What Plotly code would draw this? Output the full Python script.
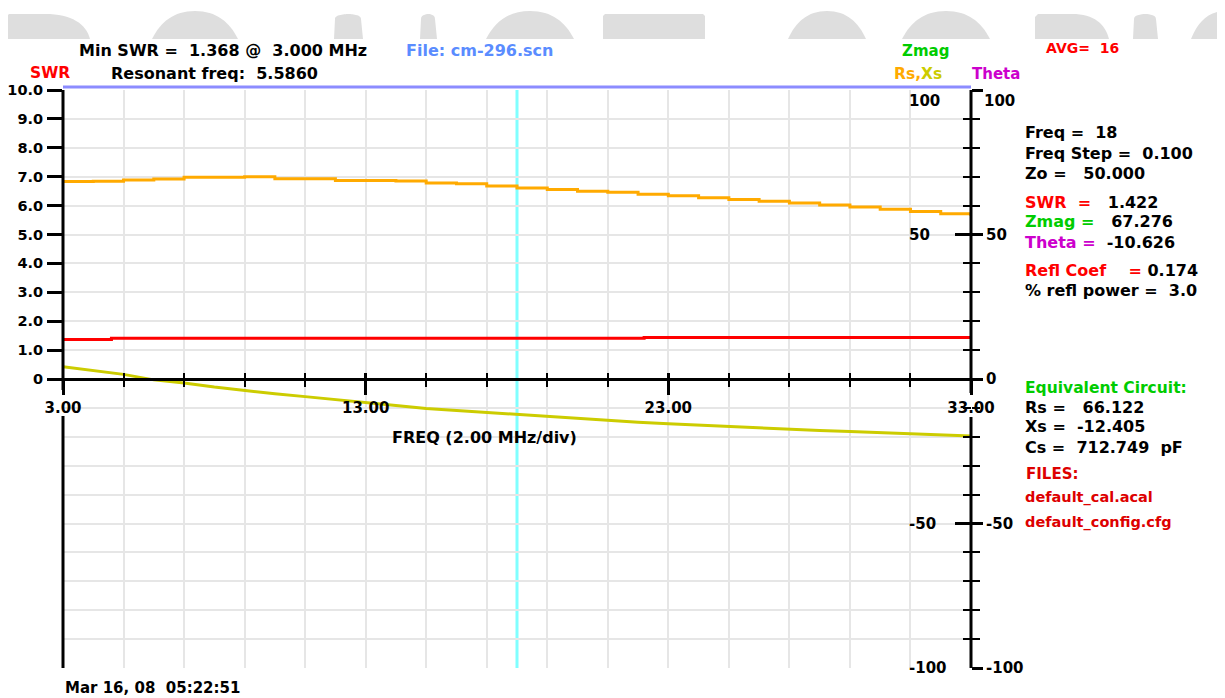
import plotly.graph_objects as go

# ---------------- data ----------------
freq_mhz = list(range(3, 34))  # 3 .. 33 MHz
rs_ohm = [68.3, 68.4, 68.9, 69.2, 69.8, 69.8, 70.0, 69.3, 69.3, 68.7, 68.7,
          68.5, 67.8, 67.6, 66.8, 66.1, 65.6, 65.0, 64.6, 63.9, 63.4, 62.7,
          62.1, 61.5, 60.9, 60.2, 59.5, 58.7, 58.0, 57.2, 56.4]
xs_ohm = [4.2, 2.8, 1.6, -0.3, -1.4, -2.8, -4.0, -5.1, -6.1, -7.2, -8.2,
          -9.2, -10.2, -10.9, -11.7, -12.4, -13.1, -13.8, -14.4, -15.0, -15.5,
          -16.0, -16.5, -16.9, -17.4, -17.8, -18.2, -18.6, -19.0, -19.4, -19.7]
swr_freq = [3.0, 4.6, 22.2, 33.0]
swr_vals = [1.368, 1.41, 1.44, 1.44]
cursor_freq = 18.0

swr_ticks = [10, 9, 8, 7, 6, 5, 4, 3, 2, 1, 0]
swr_ticktext = ["10.0", "9.0", "8.0", "7.0", "6.0", "5.0", "4.0", "3.0", "2.0", "1.0", "0"]
freq_ticks = [3, 13, 23, 33]
imp_ticks = [-100, -50, 0, 50, 100]
imp_ticktext = ["-100", "-50", "0", "50", ""]
inner_ticks = [-100, -50, 50, 100]
inner_ticktext = ["-100", "-50", "50", "100"]

# ---------------- geometry (window pixels) ----------------
W, H = 1225, 698
OFF = 8                      # page body margin
L, R, T, B = 63, 971, 90, 668
FONT = "DejaVu Sans, Verdana, sans-serif"


def px(x):
    return (x - L) / (R - L)


def py(y):
    return (B - y) / (B - T)


fig = go.Figure()

fig.add_trace(go.Scatter(x=freq_mhz, y=rs_ohm, yaxis="y2", mode="lines",
                         line=dict(color="#ffaa00", width=3, shape="hv"),
                         name="Rs", showlegend=False))
fig.add_trace(go.Scatter(x=freq_mhz, y=xs_ohm, yaxis="y2", mode="lines",
                         line=dict(color="#cccc00", width=3),
                         name="Xs", showlegend=False))
fig.add_trace(go.Scatter(x=swr_freq, y=swr_vals, yaxis="y", mode="lines",
                         line=dict(color="#ff0000", width=3, shape="hv"),
                         name="SWR", showlegend=False))
fig.add_trace(go.Scatter(x=[None], y=[None], yaxis="y3", showlegend=False))
fig.add_trace(go.Scatter(x=[None], y=[None], xaxis="x2", yaxis="y", showlegend=False))

fig.add_vline(x=cursor_freq, line=dict(color="#80ffff", width=3), layer="below")

# top blue bar
fig.add_shape(type="line", xref="paper", yref="paper", x0=0, x1=1,
              y0=py(87), y1=py(87), line=dict(color="#8c8cff", width=3))

# vertical axis lines, interrupted around the 3.00 / 33.00 labels
for xx, gap_top, gap_bot in [(0, 390, 416), (1, 393, 417)]:
    fig.add_shape(type="line", xref="paper", yref="paper", x0=xx, x1=xx,
                  y0=py(gap_top), y1=1, line=dict(color="black", width=3), layer="above")
    fig.add_shape(type="line", xref="paper", yref="paper", x0=xx, x1=xx,
                  y0=0, y1=py(gap_bot), line=dict(color="black", width=3), layer="above")


# grey watermark letter tops (page decoration behind the chart image)
def P(x, y):
    return f"{px(x):.5f},{py(y):.5f}"


def dome(x0, x1, top=11, base=39):
    w = x1 - x0
    c = (x0 + x1) / 2
    return (f"M{P(x0, base)} C{P(x0 + 0.10 * w, 22)} {P(x0 + 0.25 * w, top)} {P(c, top)} "
            f"C{P(x1 - 0.25 * w, top)} {P(x1 - 0.10 * w, 22)} {P(x1, base)} Z")


def flat(x0, x1, top=14, base=39):
    return (f"M{P(x0, base)} L{P(x0, top + 2)} L{P(x0 + 2, top)} L{P(x1 - 2, top)} "
            f"L{P(x1, top + 2)} L{P(x1, base)} Z")


def dshape(x0, xm, x1, top=14, base=39):
    return (f"M{P(x0, base)} L{P(x0, top + 3)} L{P(x0 + 3, top)} L{P(xm, top)} "
            f"C{P(xm + 0.6 * (x1 - xm), top)} {P(x1 - 4, 24)} {P(x1, base)} Z")


def narrow(x0, x1, top=14, base=39):
    c = (x0 + x1) / 2
    return (f"M{P(x0, base)} L{P(x0 + 1, top + 5)} C{P(x0 + 1, top)} {P(c, top)} {P(c, top)} "
            f"C{P(c, top)} {P(x1 - 2, top)} {P(x1 - 2, top + 5)} L{P(x1, base)} Z")


wm_paths = [dshape(6, 45, 90), dome(152, 238), narrow(334, 363), narrow(420, 437),
            dome(486, 574), flat(603, 705), dome(788, 866), dome(902, 990),
            dshape(1035, 1072, 1109), narrow(1133, 1158), dome(1191, 1260)]
for pth in wm_paths:
    fig.add_shape(type="path", path=pth, xref="paper", yref="paper",
                  fillcolor="#dedede", line=dict(width=0), layer="below")

tickfont = dict(family=FONT, size=15, color="black", weight="bold")
swrfont = dict(family=FONT, size=14.5, color="black", weight="bold")
GRID = "#e6e6e6"

fig.update_layout(
    width=W - OFF, height=H - OFF,
    margin=dict(l=L - OFF, r=(W - OFF) - (R - OFF), t=T - OFF, b=(H - OFF) - (B - OFF),
                autoexpand=False),
    paper_bgcolor="white", plot_bgcolor="white",
    template="none",
    showlegend=False,
    xaxis=dict(range=[3, 33], anchor="free", position=0.5,
               tickmode="array", tickvals=freq_ticks, tickformat=".2f",
               ticks="outside", ticklen=14, tickwidth=3, tickcolor="black",
               showline=True, linewidth=3, linecolor="black",
               showgrid=True, gridcolor=GRID, gridwidth=2,
               minor=dict(tickmode="linear", tick0=3, dtick=2, ticks="outside",
                          ticklen=6, tickwidth=2, tickcolor="black",
                          showgrid=True, gridcolor=GRID, gridwidth=2),
               tickfont=tickfont, zeroline=False, fixedrange=True),
    xaxis2=dict(range=[3, 33], anchor="free", position=0.5, overlaying="x",
                tickmode="array", tickvals=freq_ticks, showticklabels=False,
                ticks="inside", ticklen=6, tickwidth=3, tickcolor="black",
                minor=dict(tickmode="linear", tick0=3, dtick=2, ticks="inside",
                           ticklen=6, tickwidth=2, tickcolor="black", showgrid=False),
                showline=False, showgrid=False, zeroline=False),
    yaxis=dict(range=[-10, 10], tickmode="array", tickvals=swr_ticks,
               ticktext=swr_ticktext, ticks="outside", ticklen=15, tickwidth=3,
               tickcolor="black", showline=False,
               showgrid=False, zeroline=False, tickfont=swrfont, ticklabelstandoff=1),
    yaxis2=dict(range=[-100, 100], overlaying="y", side="right", anchor="x",
                tickmode="array", tickvals=imp_ticks, ticktext=imp_ticktext,
                ticks="outside", ticklen=11, tickwidth=3, tickcolor="black",
                showline=False,
                showgrid=True, gridcolor=GRID, gridwidth=2,
                minor=dict(tickmode="linear", tick0=0, dtick=10, ticks="outside",
                           ticklen=8, tickwidth=2, tickcolor="black",
                           showgrid=True, gridcolor=GRID, gridwidth=2),
                zeroline=False, tickfont=tickfont, ticklabelstandoff=0),
    yaxis3=dict(range=[-100, 100], overlaying="y", side="right", anchor="x",
                tickmode="array", tickvals=inner_ticks, showticklabels=False,
                ticks="inside", ticklen=16, tickwidth=3, tickcolor="black",
                minor=dict(tickmode="linear", tick0=0, dtick=10, ticks="inside",
                           ticklen=8, tickwidth=2, tickcolor="black", showgrid=False),
                showline=False, showgrid=False, zeroline=False),
)

# inner (Rs,Xs) scale labels, left-aligned inside the plot, placed on the y2 scale
for v, t in zip(inner_ticks, inner_ticktext):
    fig.add_annotation(text=t, x=px(907), y=v, xref="paper", yref="y2",
                       xanchor="left", yanchor="middle", showarrow=False,
                       yshift=-11 if v == 100 else 0,
                       font=tickfont)
# outer top label (drawn just below the top tick, as in the original)
fig.add_annotation(text=str(imp_ticks[-1]), x=px(982), y=imp_ticks[-1], xref="paper",
                   yref="y2", xanchor="left", yanchor="middle", showarrow=False,
                   yshift=-11, font=tickfont)


def ann(text, x, y, color="black", size=16, xanchor="left"):
    fig.add_annotation(text=text, x=px(x), y=py(y), xref="paper", yref="paper",
                       xanchor=xanchor, yanchor="middle", showarrow=False,
                       font=dict(family=FONT, size=size, color=color, weight="bold"))


S = "\u00a0"
ann(f"Min SWR ={S} 1.368 @{S} 3.000 MHz", 77, 51)
ann("File: cm-296.scn", 404, 50, color="#5a8cff")
ann("SWR", 28, 73, color="#ff0000", size=15.5)
ann(f"Resonant freq:{S} 5.5860", 109, 73)
ann("Zmag", 900, 51, color="#00cc00", size=15)
ann(f"AVG={S} 16", 1044, 48, color="#ff0000", size=14)
ann("<span style='color:#ffaa00'>Rs,</span><span style='color:#cccc00'>Xs</span>",
    892, 74, size=15.5)
ann("Theta", 970, 74, color="#cc00cc", size=15)

ann(f"Freq ={S} 18", 1023, 132)
ann(f"Freq Step ={S} 0.100", 1023, 153)
ann(f"Zo ={S}{S} 50.000", 1023, 173)
ann(f"<span style='color:#ff0000'>SWR{S} =</span>{S}{S} 1.422", 1023, 202)
ann(f"<span style='color:#00cc00'>Zmag =</span>{S}{S} 67.276", 1023, 222)
ann(f"<span style='color:#cc00cc'>Theta =</span>{S} -10.626", 1023, 242)
ann(f"<span style='color:#ff0000'>Refl Coef{S}{S}{S} =</span> 0.174", 1023, 270)
ann(f"% refl power ={S} 3.0", 1023, 290)
ann("Equivalent Circuit:", 1023, 388, color="#00cc00", size=15.5)
ann(f"Rs ={S}{S} 66.122", 1023, 407)
ann(f"Xs ={S} -12.405", 1023, 427)
ann(f"Cs ={S} 712.749{S} pF", 1023, 448)
ann("FILES:", 1024, 474, color="#dd0000", size=15)
ann("default_cal.acal", 1023, 498, color="#dd0000", size=14.5)
ann("default_config.cfg", 1023, 522, color="#dd0000", size=14.5)
ann("FREQ (2.00 MHz/div)", 390, 437)
ann(f"Mar 16, 08{S} 05:22:51", 63, 688, size=15)

fig.write_html("out.html")
